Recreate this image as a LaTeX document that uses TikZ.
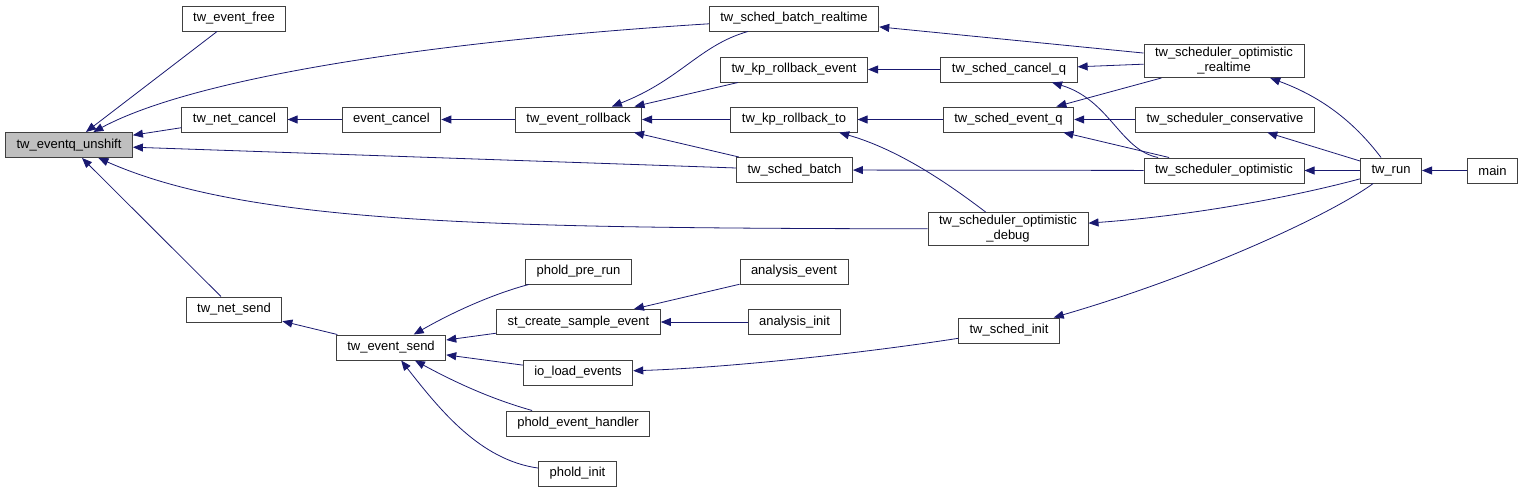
\documentclass[tikz,border=0pt]{standalone}
\usepackage{fontspec}
\setmainfont{Liberation Sans}
\usepackage{tikz}
\usetikzlibrary{arrows.meta}
\usepackage{xcolor}
\definecolor{edgecolor}{HTML}{191970}
\definecolor{bordercolor}{HTML}{404040}
\definecolor{rootcolor}{HTML}{BFBFBF}

\begin{document}
\begin{tikzpicture}[
  x=1pt, y=-1pt,
  every node/.style={font=\fontsize{13}{15}\selectfont},
  box/.style={draw=bordercolor, line width=1pt, fill=white, minimum height=25pt,
              inner xsep=11pt, inner ysep=3pt, align=center},
  arr/.style={draw=edgecolor, line width=0.8pt, -{Triangle[length=10pt,width=8pt,fill=edgecolor]}}
]
  \useasboundingbox (0,0) rectangle (1533,493);
  % nodes
  \node[box, fill=rootcolor] (unshift) at (69,145) {tw\_eventq\_unshift};
  \node[box] (evfree) at (234,18.5) {tw\_event\_free};
  \node[box] (netcancel) at (234.5,119.5) {tw\_net\_cancel};
  \node[box] (netsend) at (234,309.5) {tw\_net\_send};
  \node[box] (evcancel) at (391.5,119.5) {event\_cancel};
  \node[box] (evsend) at (391,347.5) {tw\_event\_send};
  \node[box] (rollback) at (578.5,119.5) {tw\_event\_rollback};
  \node[box] (prerun) at (578.5,271.5) {phold\_pre\_run};
  \node[box] (createsample) at (578.5,322) {st\_create\_sample\_event};
  \node[box] (ioload) at (578,372.5) {io\_load\_events};
  \node[box] (handler) at (578,423.5) {phold\_event\_handler};
  \node[box] (pinit) at (577.5,473.5) {phold\_init};
  \node[box] (batchrt) at (794,18.5) {tw\_sched\_batch\_realtime};
  \node[box] (kprbevent) at (794,69.5) {tw\_kp\_rollback\_event};
  \node[box] (kprbto) at (794,119.5) {tw\_kp\_rollback\_to};
  \node[box] (batch) at (794.5,170) {tw\_sched\_batch};
  \node[box] (anevent) at (794,271.5) {analysis\_event};
  \node[box] (aninit) at (794.5,322) {analysis\_init};
  \node[box] (cancelq) at (1009,69.5) {tw\_sched\_cancel\_q};
  \node[box] (eventq) at (1008.5,119.5) {tw\_sched\_event\_q};
  \node[box] (optdebug) at (1008,229) {tw\_scheduler\_optimistic\\\_debug};
  \node[box] (schedinit) at (1009,330.5) {tw\_sched\_init};
  \node[box] (optrt) at (1224,61) {tw\_scheduler\_optimistic\\\_realtime};
  \node[box] (conservative) at (1225,119.5) {tw\_scheduler\_conservative};
  \node[box] (optimistic) at (1224,170.5) {tw\_scheduler\_optimistic};
  \node[box] (run) at (1391,170.5) {tw\_run};
  \node[box] (main) at (1492.5,170.5) {main};
  % callers of tw_eventq_unshift
  \draw[arr] (evfree) -- (unshift);
  \draw[arr] (batchrt) .. controls (450,40) and (200,75) .. (unshift);
  \draw[arr] (netcancel) -- (unshift);
  \draw[arr] (batch) -- (unshift);
  \draw[arr] (optdebug) .. controls (500,228) and (250,225) .. (unshift);
  \draw[arr] (netsend) -- (unshift);
  % rollback chain
  \draw[arr] (evcancel) -- (netcancel);
  \draw[arr] (rollback) -- (evcancel);
  \draw[arr] (batchrt) .. controls (700,45) and (680,80) .. (rollback);
  \draw[arr] (kprbevent) -- (rollback);
  \draw[arr] (kprbto) -- (rollback);
  \draw[arr] (batch) -- (rollback);
  \draw[arr] (optrt) -- (batchrt);
  \draw[arr] (cancelq) -- (kprbevent);
  \draw[arr] (eventq) -- (kprbto);
  \draw[arr] (optdebug) .. controls (950,185) and (900,150) .. (kprbto);
  \draw[arr] (optimistic) -- (batch);
  \draw[arr] (optrt) -- (cancelq);
  \draw[arr] (optimistic) .. controls (1120,150) and (1110,100) .. (cancelq);
  \draw[arr] (optrt) -- (eventq);
  \draw[arr] (conservative) -- (eventq);
  \draw[arr] (optimistic) -- (eventq);
  % schedulers
  \draw[arr] (run) .. controls (1360,130) and (1330,100) .. (optrt);
  \draw[arr] (run) -- (conservative);
  \draw[arr] (run) -- (optimistic);
  \draw[arr] (run) .. controls (1300,195) and (1200,215) .. (optdebug);
  \draw[arr] (run) .. controls (1330,215) and (1200,275) .. (schedinit);
  \draw[arr] (main) -- (run);
  % send chain
  \draw[arr] (evsend) -- (netsend);
  \draw[arr] (prerun) .. controls (500,292) and (460,308) .. (evsend);
  \draw[arr] (createsample) -- (evsend);
  \draw[arr] (ioload) -- (evsend);
  \draw[arr] (handler) .. controls (495,400) and (460,385) .. (evsend);
  \draw[arr] (pinit) .. controls (480,460) and (440,410) .. (evsend);
  \draw[arr] (anevent) -- (createsample);
  \draw[arr] (aninit) -- (createsample);
  \draw[arr] (schedinit) .. controls (850,355) and (720,368) .. (ioload);
\end{tikzpicture}
\end{document}
